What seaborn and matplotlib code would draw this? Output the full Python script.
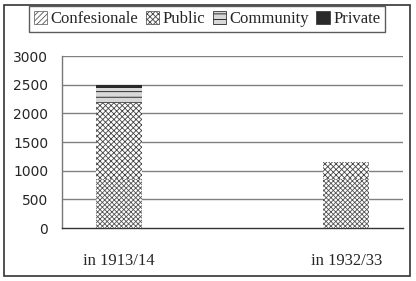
import matplotlib
matplotlib.use("Agg")
import matplotlib.pyplot as plt
import seaborn as sns
import pandas as pd
import numpy as np
from matplotlib.patches import Rectangle, Patch

sns.set_style("white")
plt.rcParams["hatch.linewidth"] = 0.6

categories = ["in 1913/14", "", "in 1932/33"]
confesionale = [850, 0, 850]
public = [1330, 0, 300]
community = [260, 0, 0]
private = [50, 0, 0]
series_names = ["Confesionale", "Public", "Community", "Private"]
yticks = [0, 500, 1000, 1500, 2000, 2500, 3000]

df = pd.DataFrame({"cat": categories, "Confesionale": confesionale, "Public": public,
                   "Community": community, "Private": private})

styles = {
    "Confesionale": dict(facecolor="white", hatch="xxxxxxx", edgecolor="#555555"),
    "Public": dict(facecolor="white", hatch="xxxxxx", edgecolor="#444444"),
    "Community": dict(facecolor="#d8d8d8", hatch="---", edgecolor="#111111"),
    "Private": dict(facecolor="#2a2a2a", hatch=None, edgecolor="#2a2a2a"),
}
legend_hatch = {"Confesionale": "//////", "Public": "xxxxxx", "Community": "---", "Private": None}

fig = plt.figure(figsize=(4.16, 2.81), dpi=100)
ax = fig.add_axes([62/416, 1-228/281, (403-62)/416, (228-56)/281])

bottom = np.zeros(len(categories))
for name in series_names:
    vals = df[name].to_numpy(dtype=float)
    st = styles[name]
    sns.barplot(x=df["cat"], y=vals, ax=ax, bottom=bottom, width=0.4,
                color=st["facecolor"], saturation=1, hatch=st["hatch"],
                edgecolor=st["edgecolor"], linewidth=0.0, zorder=3)
    bottom = bottom + vals

ax.set_ylim(0, 3000)
ax.set_xlim(-0.5, 2.5)
ax.set_yticks(yticks)
ax.set_yticklabels([str(v) for v in yticks], fontsize=10, family="DejaVu Sans")
ax.set_xlabel("")
ax.set_ylabel("")
ax.set_xticks(range(len(categories)))
ax.set_xticklabels(categories, fontsize=12, family="Liberation Serif")
ax.set_xticks([-0.5, 0.5, 1.5, 2.5], minor=True)
ax.tick_params(axis="x", which="major", length=0, pad=18)
ax.tick_params(axis="x", which="minor", length=5, direction="out", color="#555555", width=1)
ax.tick_params(axis="y", which="major", length=8, direction="inout", color="#777777", width=1, pad=6)
for y in yticks[1:]:
    ax.axhline(y, color="#808080", lw=1, zorder=1)
for s in ["top", "right"]:
    ax.spines[s].set_visible(False)
ax.spines["left"].set_color("#777777")
ax.spines["bottom"].set_color("#333333")
ax.spines["left"].set_linewidth(1)
ax.spines["bottom"].set_linewidth(1)

handles = [Patch(facecolor=styles[n]["facecolor"], hatch=legend_hatch[n],
                 edgecolor=styles[n]["edgecolor"], linewidth=0.5) for n in series_names]
leg = fig.legend(handles, series_names, loc="upper center", ncol=4,
                 bbox_to_anchor=(207/416, 1-6/281), frameon=True, fancybox=False,
                 prop={"family": "Liberation Serif", "size": 12},
                 handlelength=0.8, handleheight=0.8, handletextpad=0.2,
                 columnspacing=0.45, borderpad=0.3, borderaxespad=0)
leg.get_frame().set_edgecolor("#333333")
leg.get_frame().set_linewidth(1)

fig.patches.append(Rectangle((4/416, 5/281), 406/416, 271/281, transform=fig.transFigure,
                             fill=False, edgecolor="#333333", linewidth=1.2))

fig.savefig("out.png", dpi=100)
